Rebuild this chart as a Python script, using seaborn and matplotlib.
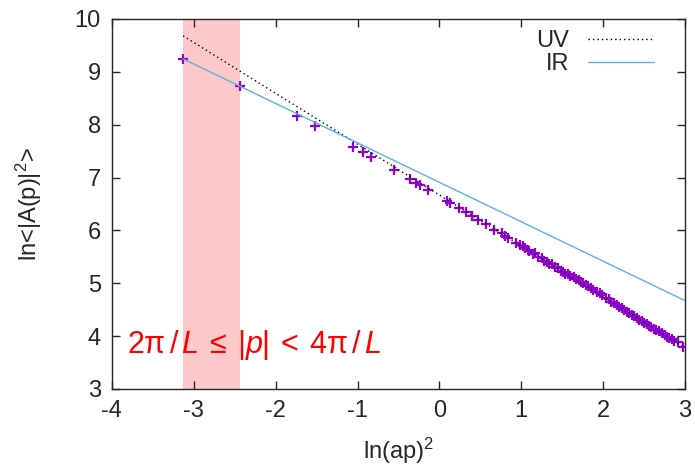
"""Lattice propagator: ln<|A(p)|^2> vs ln(ap)^2 with UV / IR fits."""

# %%
import matplotlib.pyplot as plt
import pandas as pd
import seaborn as sns

ln_p2 = [-3.13, -2.43, -1.74, -1.52, -1.05, -0.93, -0.83, -0.56, -0.36, -0.29,
         -0.24, -0.14, 0.09, 0.13, 0.24, 0.33, 0.40, 0.47, 0.57, 0.67,
         0.76, 0.80, 0.84, 0.94, 0.98, 1.05, 1.10, 1.17, 1.25, 1.31,
         1.37, 1.45, 1.51, 1.57, 1.64, 1.70, 1.76, 1.82, 1.88, 1.96,
         2.04, 2.10, 2.17, 2.23, 2.29, 2.35, 2.41, 2.47, 2.53, 2.59,
         2.65, 2.72, 2.78, 2.84, 2.91, 2.97,
         # overlapping points in the dense tail
         1.02, 1.08, 1.14, 1.21, 1.28, 1.34, 1.41, 1.48, 1.54, 1.60,
         1.67, 1.73, 1.79, 1.85, 1.92, 1.99, 2.07, 2.13, 2.20, 2.26,
         2.32, 2.38, 2.44, 2.50, 2.56, 2.62, 2.68, 2.75, 2.81, 2.87]
ln_A2 = [9.25, 8.73, 8.17, 7.98, 7.58, 7.48, 7.38, 7.14, 6.97, 6.90,
         6.86, 6.77, 6.56, 6.51, 6.42, 6.34, 6.27, 6.20, 6.12, 6.01,
         5.95, 5.90, 5.85, 5.77, 5.72, 5.66, 5.61, 5.57, 5.47, 5.41,
         5.36, 5.28, 5.22, 5.17, 5.11, 5.06, 5.00, 4.94, 4.87, 4.81,
         4.72, 4.65, 4.59, 4.53, 4.46, 4.40, 4.35, 4.29, 4.23, 4.18,
         4.12, 4.05, 3.99, 3.94, 3.88, 3.80,
         5.70, 5.63, 5.55, 5.49, 5.43, 5.37, 5.31, 5.24, 5.18, 5.13,
         5.08, 5.02, 4.96, 4.91, 4.83, 4.77, 4.70, 4.63, 4.55, 4.50,
         4.44, 4.38, 4.31, 4.25, 4.20, 4.14, 4.09, 4.02, 3.96, 3.91]

# linear fits  a + b * ln(ap)^2, drawn from the first point to the right edge
fit_range = [-3.13, 3.0]
uv_a, uv_b = 6.67, -0.962
ir_a, ir_b = 6.91, -0.746

# shaded momentum window
band = [-3.13, -2.43]

df = pd.DataFrame({"x": ln_p2, "y": ln_A2})
fits = pd.DataFrame({"x": fit_range * 2,
                     "y": [uv_a + uv_b * v for v in fit_range] + [ir_a + ir_b * v for v in fit_range],
                     "fit": ["UV"] * 2 + ["IR"] * 2})

# %%
sns.set_style("ticks")
plt.rcParams["font.family"] = ["Liberation Sans", "DejaVu Sans"]
plt.rcParams["axes.unicode_minus"] = False
plt.rcParams["mathtext.fontset"] = "custom"
plt.rcParams["mathtext.rm"] = "Liberation Sans"
plt.rcParams["mathtext.it"] = "Liberation Sans:italic"

fig, ax = plt.subplots(figsize=(6.95, 4.69), dpi=100)
fig.subplots_adjust(left=0.161, right=0.9856, top=0.9595, bottom=0.1706)

ax.axvspan(band[0], band[1], color="#ffc8c8", lw=0, zorder=0)
sns.scatterplot(data=df, x="x", y="y", marker="+", color="#9400d3", s=50, linewidth=1.6, ax=ax, zorder=2)
sns.lineplot(data=fits, x="x", y="y", hue="fit", palette={"UV": "black", "IR": "#56b4e9"},
             style="fit", dashes={"UV": (1, 2.2), "IR": ""}, linewidth=1.0, ax=ax, zorder=3)

ax.set_xlim(-4, 3)
ax.set_ylim(3, 10)
ax.set_xticks(range(-4, 4))
ax.set_yticks(range(3, 11))
ax.tick_params(direction="in", top=True, right=True, length=6, width=1, labelsize=17, pad=8)
for s in ax.spines.values():
    s.set_linewidth(1.0)
ax.set_xlabel(r"ln(ap)$^2$", fontsize=17, labelpad=10)
ax.set_ylabel(r"ln<|A(p)|$^2$>", fontsize=17, labelpad=22)

ax.text(-3.82, 3.68, r"$2\mathrm{\pi}\,/\,L\:\leq\:|p|\:<\:4\mathrm{\pi}\,/\,L$",
        color="red", fontsize=22, va="baseline")

ax.legend(loc="upper right", bbox_to_anchor=(0.983, 1.027), frameon=False, markerfirst=False,
          handlelength=2.8, labelspacing=0.05, fontsize=17)
fig.savefig("out.png", dpi=100)
